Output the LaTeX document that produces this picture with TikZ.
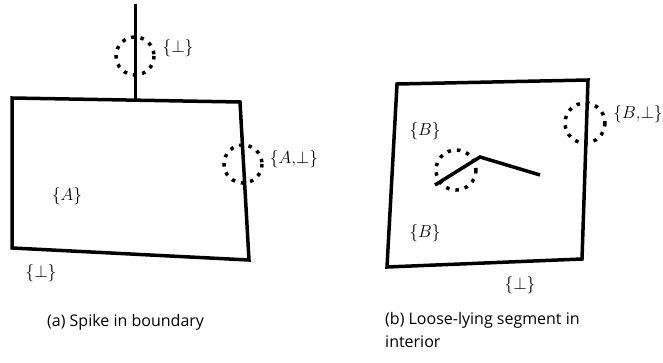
\documentclass[tikz,border=0pt]{standalone}
\usepackage{fontspec}
\setsansfont{Open Sans}
\begin{document}
\begin{tikzpicture}[x=1pt,y=-1pt,
    rand/.style={line width=3.5pt, line join=miter},
    sonde/.style={line width=3.5pt, dash pattern=on 3.5pt off 6pt},
    marke/.style={font=\fontsize{16}{18}\selectfont, inner sep=0pt},
    titel/.style={font=\sffamily\fontsize{16}{23}\selectfont, anchor=west, inner sep=0pt, align=left}]
    \useasboundingbox (0,0) rectangle (663,363);

    % (a) Spitze im Rand
    \draw[rand] (12,98) -- (240,102) -- (249,260) -- (12,248) -- cycle;
    \draw[line width=3pt] (135,4) -- (135,100);
    \draw[sonde] (135,56) circle (19);
    \draw[sonde] (243,164) circle (19);
    \node[marke] (spitze) at (178,48) {$\{\bot\}$};
    \node[marke] (randA) at (294,159) {$\{A{,}\bot\}$};
    \node[marke] (innenA) at (67,196) {$\{A\}$};
    \node[marke] (aussenA) at (41,273) {$\{\bot\}$};

    % (b) loses Segment im Inneren
    \draw[rand] (397,84) -- (588,80) -- (582,259) -- (387,267) -- cycle;
    \draw[rand] (435,185) -- (480,157) -- (540,175);
    \draw[sonde] (585,123) circle (20);
    \draw[sonde] (456,170) circle (20);
    \node[marke] (randB) at (638,114) {$\{B{,}\bot\}$};
    \node[marke] (obenB) at (425,131) {$\{B\}$};
    \node[marke] (untenB) at (425,233) {$\{B\}$};
    \node[marke] (aussenB) at (520,285) {$\{\bot\}$};

    % Beschriftungen
    \node[titel] (titelA) at (47,322) {(a) Spike in boundary};
    \node[titel, anchor=north west] (titelB) at (385,312) {(b) Loose-lying segment in\\interior};
\end{tikzpicture}
\end{document}
